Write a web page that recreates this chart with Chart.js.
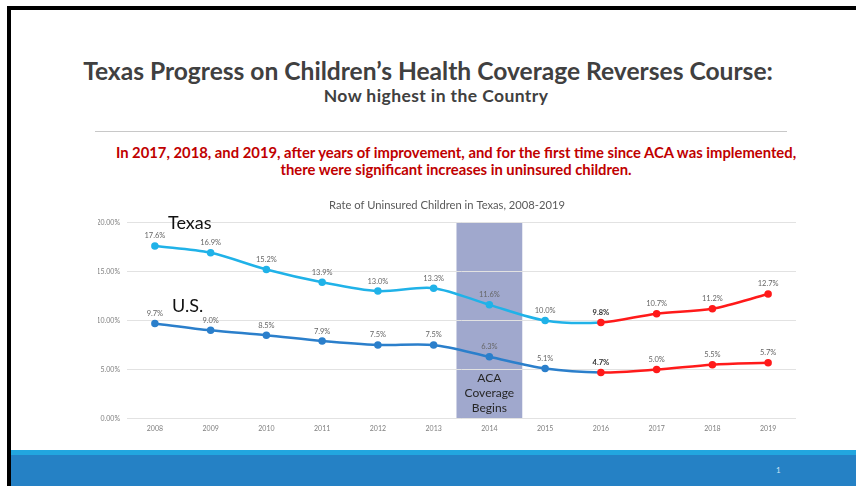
<!DOCTYPE html>
<html>
<head>
<meta charset="utf-8">
<script src="https://cdn.jsdelivr.net/npm/chart.js@4.4.1/dist/chart.umd.min.js"></script>
<style>
  body { margin: 0; width: 856px; height: 486px; position: relative; overflow: hidden; background: #fff; font-family: Lato, "Open Sans", sans-serif; }
  .abs { position: absolute; }
  #frameTop { left: 7px; top: 6px; width: 849px; height: 4px; background: #000; }
  #frameLeft { left: 7px; top: 6px; width: 4px; height: 480px; background: #000; }
  #title { left: 0; width: 856px; top: 56px; text-align: center; font-weight: bold; font-size: 24.6px; line-height: 30px; color: #404040; }
  #subtitle { left: 8px; width: 856px; top: 85px; text-align: center; font-weight: bold; font-size: 17.5px; letter-spacing: 0.4px; line-height: 22px; color: #404040; }
  #rule { left: 95px; top: 131px; width: 692px; height: 1px; background: #c8c8c8; }
  #note { left: 100px; width: 712px; top: 144px; text-align: center; font-weight: bold; font-size: 14.8px; line-height: 17px; color: #c00000; }
  .seriesName { font-size: 18px; color: #111; }
  #lblTexas { left: 168px; top: 211px; }
  #lblUS { left: 172px; top: 294px; }
  #stripe { left: 11px; top: 450px; width: 845px; height: 5px; background: #22a6df; }
  #footer { left: 11px; top: 455px; width: 845px; height: 31px; background: #2581c5; }
  #pageNo { left: 776px; top: 465px; font-size: 8px; color: #cfe3f3; }
  #chartBox { left: 80px; top: 195px; width: 734px; height: 248px; }
</style>
</head>
<body>
<div class="abs" id="frameTop"></div>
<div class="abs" id="frameLeft"></div>
<div class="abs" id="title">Texas Progress on Children’s Health Coverage Reverses Course:</div>
<div class="abs" id="subtitle">Now highest in the Country</div>
<div class="abs" id="rule"></div>
<div class="abs" id="note">In 2017, 2018, and 2019, after years of improvement, and for the first time since ACA was implemented,<br>there were significant increases in uninsured children.</div>
<div class="abs" id="chartBox"><canvas id="chart"></canvas></div>
<div class="abs seriesName" id="lblTexas">Texas</div>
<div class="abs seriesName" id="lblUS">U.S.</div>
<div class="abs" id="stripe"></div>
<div class="abs" id="footer"></div>
<div class="abs" id="pageNo">1</div>

<script>
// data
const years = ['2008', '2009', '2010', '2011', '2012', '2013', '2014', '2015', '2016', '2017', '2018', '2019'];
const texasRates = [17.6, 16.9, 15.2, 13.9, 13.0, 13.3, 11.6, 10.0, 9.8, 10.7, 11.2, 12.7];
const usRates = [9.7, 9.0, 8.5, 7.9, 7.5, 7.5, 6.3, 5.1, 4.7, 5.0, 5.5, 5.7];
const yTicks = [0, 5, 10, 15, 20];
const acaYear = '2014';
const acaText = ['ACA', 'Coverage', 'Begins'];
const riseFrom = 8; // 2016 onwards drawn in red

const RED = '#ff1a1a';
const TX_BLUE = '#20b2e8';
const US_BLUE = '#2b7fcb';

function pointColors(base) {
    return years.map((y, i) => i >= riseFrom ? RED : base);
}

// shaded ACA band behind the grid
const acaBand = {
    id: 'acaBand',
    beforeDraw(chart) {
        const x = chart.scales.x;
        const area = chart.chartArea;
        const ctx = chart.ctx;
        const idx = years.indexOf(acaYear);
        const step = x.getPixelForValue(1) - x.getPixelForValue(0);
        const cx = x.getPixelForValue(idx);
        ctx.save();
        ctx.fillStyle = '#a0a8cd';
        ctx.fillRect(cx - step * 0.59, area.top, step * 1.18, area.bottom - area.top);
        ctx.fillStyle = '#262626';
        ctx.font = '12px Lato, sans-serif';
        ctx.textAlign = 'center';
        ctx.textBaseline = 'middle';
        acaText.forEach((t, i) => {
            ctx.fillText(t, cx, area.bottom - 40 + i * 15);
        });
        ctx.restore();
    }
};

// value labels above every point
const valueLabels = {
    id: 'valueLabels',
    afterDatasetsDraw(chart) {
        const ctx = chart.ctx;
        ctx.save();
        ctx.textAlign = 'center';
        ctx.textBaseline = 'middle';
        chart.data.datasets.forEach((ds, di) => {
            const meta = chart.getDatasetMeta(di);
            meta.data.forEach((pt, i) => {
                const bold = i === riseFrom;
                ctx.font = (bold ? 'bold ' : '') + '7.5px Lato, sans-serif';
                ctx.fillStyle = bold ? '#333' : '#666';
                ctx.fillText(ds.data[i].toFixed(1) + '%', pt.x, pt.y - 10);
            });
        });
        ctx.restore();
    }
};

new Chart(document.getElementById('chart'), {
    type: 'line',
    data: {
        labels: years,
        datasets: [{
            label: 'Texas',
            data: texasRates,
            borderColor: TX_BLUE,
            pointBackgroundColor: pointColors(TX_BLUE),
            pointBorderColor: pointColors(TX_BLUE),
            segment: { borderColor: c => c.p0DataIndex >= riseFrom ? RED : undefined },
            borderWidth: 2.5,
            pointRadius: 2.5,
            tension: 0.3
        }, {
            label: 'U.S.',
            data: usRates,
            borderColor: US_BLUE,
            pointBackgroundColor: pointColors(US_BLUE),
            pointBorderColor: pointColors(US_BLUE),
            segment: { borderColor: c => c.p0DataIndex >= riseFrom ? RED : undefined },
            borderWidth: 2.5,
            pointRadius: 2.5,
            tension: 0.3
        }]
    },
    options: {
        responsive: true,
        maintainAspectRatio: false,
        animation: false,
        layout: { padding: { left: 18, right: 18, top: 0, bottom: 4 } },
        plugins: {
            legend: { display: false },
            tooltip: { enabled: false },
            title: {
                display: true,
                text: 'Rate of Uninsured Children in Texas, 2008-2019',
                color: '#595959',
                font: { family: 'Lato, sans-serif', size: 11.2, weight: 'normal' },
                padding: { top: 4, bottom: 10 }
            }
        },
        scales: {
            x: {
                offset: true,
                grid: { display: false, drawTicks: false },
                border: { display: false },
                ticks: { color: '#7f7f7f', font: { family: 'Lato, sans-serif', size: 7 }, padding: 6 }
            },
            y: {
                min: yTicks[0],
                max: yTicks[yTicks.length - 1],
                afterBuildTicks: s => { s.ticks = yTicks.map(v => ({ value: v })); },
                afterFit: s => { s.width = 29; },
                grid: { color: '#e2e2e2', drawTicks: false },
                border: { display: false },
                ticks: {
                    color: '#7f7f7f',
                    font: { family: 'Lato, sans-serif', size: 7 },
                    padding: 7,
                    callback: v => v.toFixed(2) + '%'
                }
            }
        }
    },
    plugins: [acaBand, valueLabels]
});
</script>
</body>
</html>
